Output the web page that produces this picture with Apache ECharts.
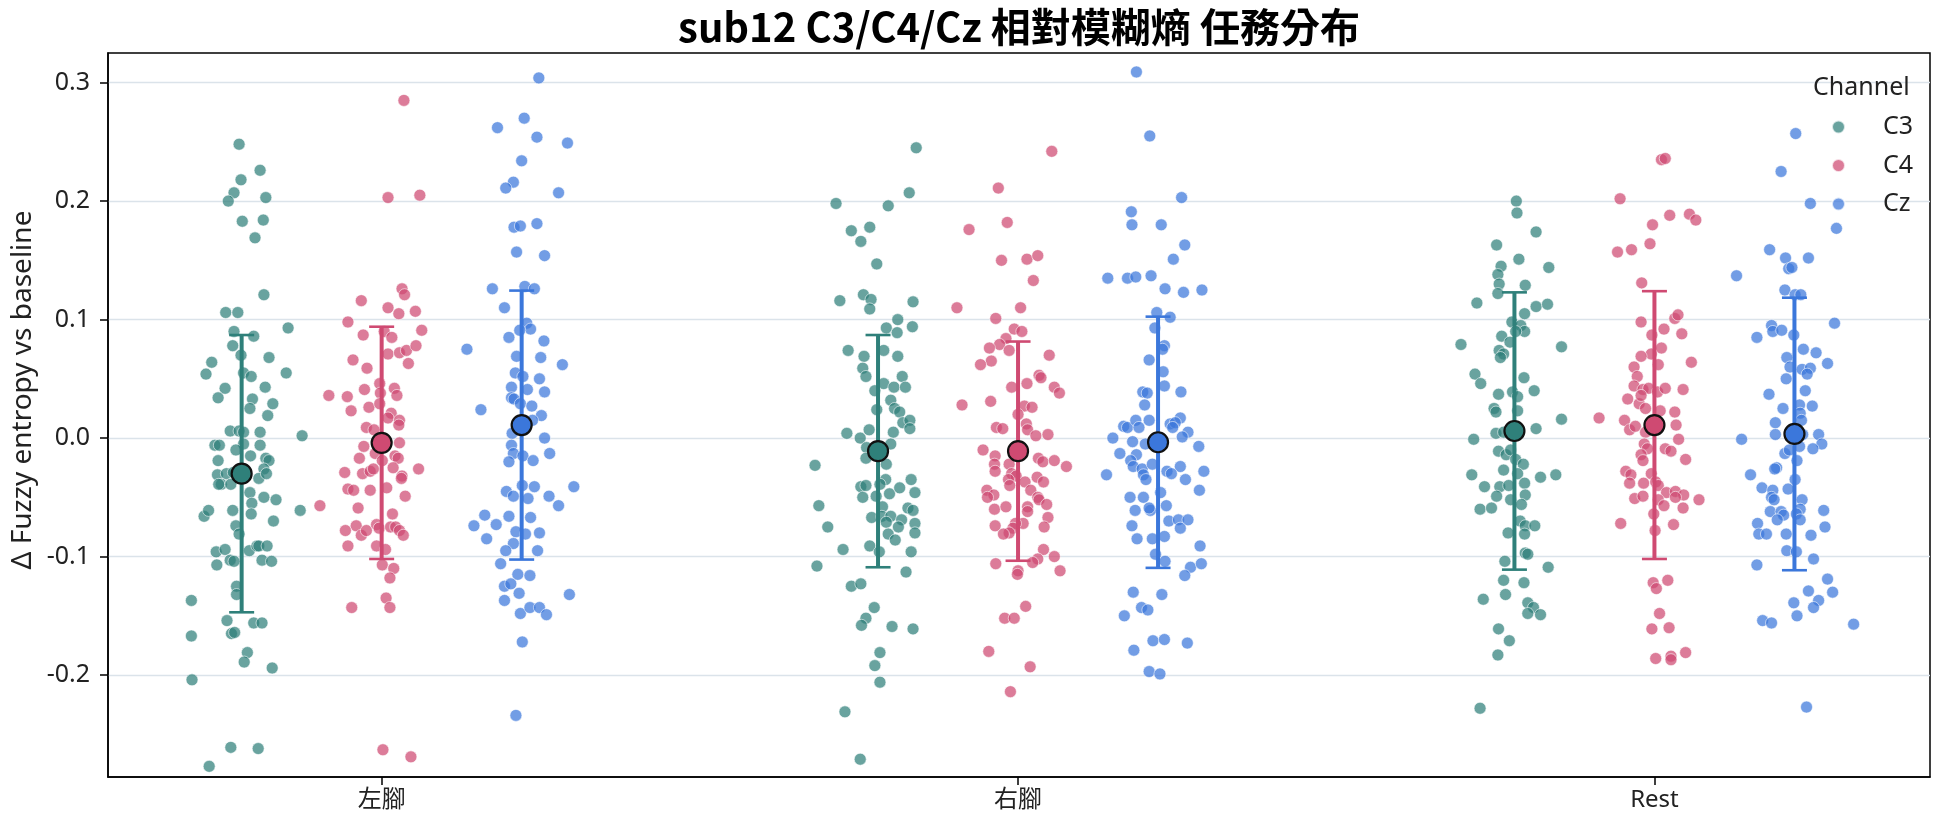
<!DOCTYPE html>
<html>
<head>
<meta charset="utf-8">
<script src="https://cdn.jsdelivr.net/npm/echarts@6/dist/echarts.min.js"></script>
<style>html,body{margin:0;padding:0;background:#fff}#chart{width:1944px;height:827px}</style>
</head>
<body>
<div id="chart"></div>
<script>
// ---------- data ----------
const categories = ['左腳', '右腳', 'Rest'];
const channels = ['C3', 'C4', 'Cz'];
const yTickValues = [-0.2, -0.1, 0.0, 0.1, 0.2, 0.3];
const titleText = 'sub12 C3/C4/Cz 相對模糊熵 任務分布';
const yAxisName = 'Δ Fuzzy entropy vs baseline';
const legendTitle = 'Channel';

// C3
const c3Left = [0.248,0.226,0.218,0.207,0.200,0.203,0.183,0.184,0.169,0.121,
  0.106,0.106,0.093,0.090,0.086,0.078,0.070,0.068,0.064,0.054,
  0.055,0.052,0.055,0.042,0.034,0.043,0.033,0.029,0.025,0.019,
  0.006,0.006,0.005,0.005,0.002,-0.006,-0.006,-0.006,-0.005,-0.010,
  -0.015,-0.019,-0.017,-0.019,-0.026,-0.031,-0.030,-0.029,-0.034,-0.030,
  -0.039,-0.039,-0.039,-0.046,-0.055,-0.050,-0.052,-0.066,-0.061,-0.061,
  -0.064,-0.061,-0.070,-0.074,-0.081,-0.096,-0.094,-0.103,-0.107,-0.104,
  -0.095,-0.091,-0.091,-0.091,-0.103,-0.104,-0.125,-0.132,-0.137,-0.154,
  -0.156,-0.156,-0.165,-0.164,-0.167,-0.181,-0.189,-0.194,-0.204,-0.261,
  -0.262,-0.277];
const c3LeftJitter = [-0.004,0.029,-0.001,-0.012,-0.021,0.038,0.001,0.034,0.021,0.035,
  -0.025,-0.006,0.073,-0.012,0.019,-0.014,-0.001,0.043,-0.047,-0.056,
  0.003,0.015,0.070,-0.026,-0.037,0.037,0.017,0.049,0.013,0.041,
  -0.018,-0.004,0.029,0.003,0.095,-0.042,-0.035,0.029,0.003,-0.009,
  0.014,-0.037,0.038,0.043,0.035,-0.038,-0.024,-0.013,0.027,0.039,
  -0.032,-0.036,-0.017,0.013,0.016,0.035,0.054,-0.059,-0.052,-0.014,
  0.015,0.092,0.050,-0.009,-0.004,-0.040,-0.026,-0.018,-0.039,-0.012,
  0.012,0.024,0.027,0.040,0.032,0.047,-0.008,-0.008,-0.079,-0.023,
  0.019,0.032,-0.016,-0.011,-0.079,0.009,0.004,0.048,-0.078,-0.017,
  0.026,-0.051];
const c3Right = [0.245,0.207,0.198,0.196,0.175,0.178,0.166,0.147,0.116,0.121,
  0.117,0.109,0.115,0.100,0.093,0.089,0.094,0.074,0.069,0.074,
  0.069,0.059,0.052,0.052,0.046,0.040,0.043,0.043,0.032,0.024,
  0.025,0.022,0.013,0.015,0.008,0.004,0.000,0.007,0.005,-0.005,
  -0.008,-0.017,-0.023,-0.022,-0.035,-0.035,-0.041,-0.040,-0.039,-0.047,
  -0.042,-0.046,-0.050,-0.049,-0.057,-0.058,-0.059,-0.061,-0.067,-0.066,
  -0.066,-0.069,-0.072,-0.075,-0.071,-0.075,-0.080,-0.081,-0.086,-0.091,
  -0.094,-0.096,-0.096,-0.108,-0.113,-0.125,-0.123,-0.143,-0.152,-0.158,
  -0.159,-0.161,-0.181,-0.192,-0.206,-0.231,-0.271];
const c3RightJitter = [0.060,0.049,-0.066,0.016,-0.042,-0.013,-0.027,-0.002,-0.060,-0.023,
  -0.011,-0.013,0.055,0.031,0.013,0.030,0.054,-0.047,-0.022,0.009,
  0.031,-0.024,-0.019,0.038,0.009,-0.005,0.025,0.043,0.020,-0.002,
  0.026,0.034,0.039,0.050,0.050,-0.049,-0.028,-0.014,0.024,0.020,
  -0.018,-0.019,-0.099,0.013,0.012,0.052,-0.027,-0.019,0.003,0.018,
  0.034,0.058,-0.024,-0.003,-0.093,0.007,0.047,0.055,-0.010,0.006,
  0.020,0.037,0.058,-0.079,0.013,0.032,0.058,0.016,0.027,-0.013,
  -0.055,0.002,0.052,-0.096,0.044,-0.042,-0.027,-0.006,-0.019,-0.026,
  0.022,0.055,0.003,-0.005,0.003,-0.052,-0.028];
const c3Rest = [0.200,0.190,0.174,0.163,0.151,0.144,0.145,0.138,0.130,0.129,
  0.122,0.114,0.111,0.113,0.105,0.098,0.095,0.090,0.090,0.086,
  0.079,0.077,0.081,0.074,0.071,0.068,0.054,0.046,0.051,0.040,
  0.037,0.039,0.035,0.025,0.022,0.023,0.016,0.008,0.004,0.005,
  -0.001,-0.011,-0.014,-0.010,-0.018,-0.022,-0.027,-0.030,-0.031,-0.033,
  -0.031,-0.041,-0.041,-0.040,-0.038,-0.049,-0.052,-0.048,-0.056,-0.060,
  -0.059,-0.070,-0.074,-0.074,-0.081,-0.080,-0.097,-0.098,-0.104,-0.109,
  -0.120,-0.122,-0.132,-0.136,-0.139,-0.143,-0.148,-0.149,-0.161,-0.171,
  -0.183,-0.228];
const c3RestJitter = [0.003,0.004,0.034,-0.028,0.007,0.054,-0.021,-0.026,-0.024,0.017,
  -0.026,-0.059,0.034,0.052,0.016,-0.004,0.010,0.016,0.002,-0.020,
  -0.084,0.074,-0.007,-0.024,-0.017,-0.022,-0.062,-0.053,0.015,0.031,
  -0.025,-0.003,0.005,-0.032,-0.029,0.005,0.074,0.034,-0.029,-0.017,
  -0.064,-0.025,-0.013,-0.006,0.002,0.014,-0.017,0.005,-0.067,0.041,
  0.065,-0.047,-0.023,-0.009,0.016,-0.028,-0.006,0.017,0.011,-0.054,
  -0.036,0.009,0.017,0.032,0.016,-0.010,0.017,0.021,-0.015,0.053,
  -0.017,0.015,-0.014,-0.049,0.021,0.030,0.021,0.041,-0.025,-0.008,
  -0.026,-0.054];

// C4
const c4Left = [0.285,0.203,0.205,0.126,0.121,0.116,0.110,0.105,0.107,0.098,
  0.087,0.090,0.085,0.091,0.071,0.072,0.074,0.078,0.066,0.059,
  0.063,0.036,0.035,0.041,0.046,0.038,0.042,0.036,0.023,0.026,
  0.029,0.021,0.017,0.015,0.011,0.009,0.007,-0.007,-0.004,-0.013,
  -0.015,-0.017,-0.017,-0.019,-0.025,-0.026,-0.029,-0.030,-0.028,-0.026,
  -0.032,-0.034,-0.042,-0.044,-0.043,-0.044,-0.049,-0.057,-0.059,-0.064,
  -0.074,-0.078,-0.082,-0.078,-0.073,-0.076,-0.075,-0.075,-0.078,-0.082,
  -0.091,-0.091,-0.094,-0.107,-0.110,-0.118,-0.135,-0.143,-0.143,-0.263,
  -0.269];
const c4LeftJitter = [0.035,0.010,0.060,0.032,0.036,-0.032,0.010,0.027,0.053,-0.053,
  -0.029,0.004,0.016,0.063,0.010,0.028,0.039,0.054,-0.045,-0.023,
  0.042,-0.083,-0.054,-0.027,-0.003,-0.002,0.020,0.024,-0.048,-0.020,
  -0.003,0.015,0.010,0.028,0.027,-0.024,-0.012,-0.028,0.028,-0.010,
  0.021,-0.035,0.026,0.001,0.018,0.058,-0.058,-0.030,-0.018,-0.013,
  0.032,0.031,0.008,-0.018,-0.053,-0.044,0.037,-0.097,-0.037,0.017,
  -0.040,-0.057,-0.032,-0.024,-0.008,-0.004,0.014,0.022,0.028,0.034,
  -0.053,-0.008,0.006,0.001,0.019,0.013,0.007,0.013,-0.047,0.002,
  0.046];
const c4Right = [0.242,0.211,0.176,0.182,0.150,0.151,0.154,0.133,0.110,0.110,
  0.101,0.092,0.090,0.084,0.079,0.076,0.074,0.065,0.062,0.070,
  0.053,0.051,0.046,0.043,0.043,0.038,0.028,0.031,0.027,0.026,
  0.020,0.012,0.007,0.009,0.008,0.002,0.003,-0.010,-0.015,-0.017,
  -0.020,-0.019,-0.024,-0.022,-0.028,-0.022,-0.030,-0.032,-0.035,-0.040,
  -0.037,-0.033,-0.037,-0.044,-0.048,-0.050,-0.044,-0.050,-0.052,-0.056,
  -0.060,-0.058,-0.058,-0.062,-0.067,-0.074,-0.072,-0.072,-0.076,-0.075,
  -0.080,-0.081,-0.094,-0.102,-0.105,-0.100,-0.106,-0.112,-0.115,-0.112,
  -0.142,-0.152,-0.152,-0.180,-0.193,-0.214];
const c4RightJitter = [0.053,-0.031,-0.077,-0.017,-0.026,0.014,0.031,0.024,-0.096,0.004,
  -0.035,-0.006,0.006,-0.019,-0.029,-0.045,-0.014,-0.042,-0.059,0.049,
  0.033,0.036,0.014,-0.010,0.057,0.065,-0.088,-0.043,0.010,0.022,
  0.000,0.013,0.015,-0.034,-0.024,0.028,0.047,-0.055,-0.036,0.032,
  0.039,0.057,0.076,-0.037,-0.036,-0.014,-0.010,-0.003,-0.015,-0.013,
  0.011,0.030,0.040,-0.049,-0.038,-0.048,0.020,0.031,0.033,0.045,
  -0.037,-0.019,0.015,0.015,0.047,-0.036,0.008,-0.004,-0.008,0.041,
  -0.014,-0.023,0.040,0.031,0.023,0.057,-0.035,0.000,-0.001,0.066,
  0.012,-0.021,-0.006,-0.046,0.019,-0.012];
const c4Rest = [0.235,0.236,0.202,0.188,0.189,0.184,0.180,0.164,0.157,0.159,
  0.131,0.098,0.101,0.104,0.092,0.088,0.087,0.076,0.071,0.069,
  0.062,0.064,0.060,0.052,0.044,0.041,0.042,0.039,0.042,0.041,
  0.033,0.029,0.036,0.025,0.023,0.022,0.017,0.015,0.007,0.010,
  0.011,0.005,-0.001,-0.005,-0.009,-0.009,-0.011,-0.014,-0.019,-0.018,
  -0.028,-0.031,-0.030,-0.038,-0.038,-0.037,-0.040,-0.046,-0.045,-0.048,
  -0.052,-0.051,-0.049,-0.052,-0.057,-0.050,-0.059,-0.064,-0.072,-0.073,
  -0.078,-0.122,-0.120,-0.127,-0.148,-0.161,-0.160,-0.186,-0.184,-0.187,
  -0.181];
const c4RestJitter = [0.011,0.017,-0.054,0.024,0.055,0.065,-0.003,-0.007,-0.058,-0.036,
  -0.020,-0.021,0.032,0.037,0.015,0.043,-0.004,0.011,-0.005,-0.021,
  0.006,0.058,-0.032,-0.027,-0.032,-0.018,-0.009,0.005,0.017,0.045,
  -0.042,-0.024,-0.021,-0.014,0.009,0.032,-0.087,-0.047,-0.039,-0.030,
  0.034,-0.014,0.038,-0.016,-0.011,0.017,0.026,-0.021,-0.018,0.049,
  -0.045,-0.037,-0.005,-0.039,-0.017,0.002,0.006,0.019,0.033,0.046,
  0.070,-0.031,-0.018,0.006,0.015,0.033,0.045,-0.001,-0.053,0.030,
  0.001,-0.002,0.021,0.003,0.008,-0.004,0.023,0.002,0.026,0.026,
  0.049];

// Cz
const czLeft = [0.304,0.262,0.270,0.254,0.249,0.234,0.216,0.211,0.207,0.178,
  0.179,0.181,0.157,0.154,0.126,0.128,0.126,0.110,0.097,0.092,
  0.091,0.085,0.082,0.075,0.069,0.068,0.062,0.055,0.052,0.050,
  0.043,0.041,0.039,0.034,0.033,0.029,0.027,0.024,0.019,0.015,
  0.004,0.000,-0.006,-0.013,-0.015,-0.013,-0.020,-0.019,-0.040,-0.045,
  -0.041,-0.041,-0.049,-0.051,-0.049,-0.057,-0.065,-0.066,-0.067,-0.074,
  -0.073,-0.079,-0.081,-0.080,-0.085,-0.089,-0.095,-0.095,-0.106,-0.115,
  -0.116,-0.125,-0.123,-0.131,-0.137,-0.132,-0.148,-0.143,-0.143,-0.149,
  -0.172,-0.234];
const czLeftJitter = [0.027,-0.038,0.004,0.024,0.072,0.000,-0.013,-0.025,0.058,-0.012,
  -0.002,0.024,-0.008,0.036,-0.046,0.005,0.020,-0.027,0.008,0.014,
  -0.003,-0.020,0.035,-0.086,-0.008,0.030,0.064,-0.010,0.002,0.028,
  -0.016,0.009,0.036,-0.016,-0.012,-0.002,0.016,-0.064,0.031,0.017,
  -0.015,0.036,-0.016,-0.013,0.002,0.044,-0.020,0.018,0.001,-0.024,
  0.020,0.082,-0.013,0.010,0.043,0.058,-0.058,-0.020,0.014,-0.075,
  -0.040,-0.009,0.006,0.028,-0.055,-0.013,-0.025,0.025,-0.033,-0.006,
  0.013,-0.027,-0.017,-0.004,-0.027,0.075,-0.002,0.013,0.028,0.039,
  0.001,-0.009];
const czRight = [0.309,0.255,0.203,0.191,0.180,0.180,0.163,0.151,0.135,0.135,
  0.136,0.137,0.126,0.123,0.125,0.106,0.102,0.093,0.078,0.075,
  0.066,0.056,0.044,0.039,0.039,0.038,0.028,0.017,0.010,0.009,
  0.015,0.009,0.015,0.012,0.013,0.009,0.005,0.001,0.000,-0.003,
  -0.005,-0.007,-0.013,-0.014,-0.019,-0.024,-0.026,-0.022,-0.024,-0.028,
  -0.030,-0.028,-0.031,-0.031,-0.035,-0.035,-0.044,-0.046,-0.050,-0.050,
  -0.057,-0.061,-0.061,-0.059,-0.070,-0.069,-0.069,-0.076,-0.074,-0.085,
  -0.085,-0.083,-0.091,-0.098,-0.104,-0.109,-0.106,-0.116,-0.130,-0.132,
  -0.143,-0.145,-0.150,-0.171,-0.170,-0.173,-0.179,-0.197,-0.199];
const czRightJitter = [-0.034,-0.013,0.037,-0.042,-0.041,0.005,0.042,0.024,-0.079,-0.048,
  -0.035,-0.011,0.011,0.040,0.069,-0.002,0.019,-0.005,0.010,0.007,
  -0.014,0.008,0.010,0.036,-0.024,-0.017,-0.021,0.035,-0.054,-0.048,
  -0.035,-0.030,-0.014,0.019,0.027,0.023,0.047,0.038,-0.071,-0.040,
  -0.020,0.064,-0.060,-0.034,-0.043,-0.039,-0.025,-0.009,0.035,0.014,
  0.021,0.072,-0.081,-0.023,-0.019,0.043,0.065,0.004,-0.044,-0.023,
  0.013,-0.036,-0.012,-0.014,0.017,0.032,0.047,0.035,-0.041,-0.033,
  -0.009,0.010,0.066,-0.004,0.011,0.051,0.068,0.042,-0.039,0.006,
  -0.026,-0.016,-0.053,-0.008,0.010,0.046,-0.038,-0.014,0.003];
const czRest = [0.257,0.225,0.198,0.177,0.159,0.152,0.152,0.143,0.144,0.137,
  0.125,0.121,0.121,0.097,0.095,0.090,0.091,0.085,0.087,0.075,
  0.072,0.068,0.063,0.060,0.058,0.059,0.054,0.050,0.040,0.037,
  0.027,0.025,0.028,0.021,0.015,0.013,0.003,-0.001,0.003,0.003,
  -0.005,-0.009,-0.007,-0.013,-0.010,-0.019,-0.025,-0.026,-0.031,-0.035,
  -0.042,-0.043,-0.044,-0.050,-0.052,-0.052,-0.062,-0.062,-0.065,-0.069,
  -0.060,-0.064,-0.069,-0.061,-0.072,-0.075,-0.081,-0.081,-0.081,-0.082,
  -0.095,-0.096,-0.102,-0.107,-0.119,-0.129,-0.130,-0.137,-0.139,-0.143,
  -0.150,-0.154,-0.156,-0.157,-0.227];
const czRestJitter = [0.002,-0.021,0.025,0.066,-0.039,-0.014,0.022,-0.009,-0.004,-0.091,
  -0.015,0.001,0.010,0.063,-0.036,-0.034,-0.020,-0.059,-0.001,0.014,
  0.034,-0.012,0.052,-0.007,0.012,0.025,0.020,-0.013,0.017,-0.040,
  0.028,-0.018,0.008,0.009,0.011,-0.030,-0.030,-0.083,0.038,0.013,
  0.043,0.029,0.008,-0.015,-0.008,0.004,-0.028,-0.031,-0.069,0.001,
  -0.051,-0.010,-0.034,-0.036,-0.032,0.012,-0.038,-0.021,-0.017,-0.027,
  0.009,0.003,0.009,0.046,-0.058,0.048,-0.056,-0.044,-0.013,0.026,
  -0.012,0.003,0.030,-0.059,0.052,0.022,0.060,0.038,-0.001,0.030,
  0.004,-0.050,-0.036,0.093,0.019];

// mean and SD per category (左腳, 右腳, Rest)
const c3Mean = [-0.030, -0.011, 0.006];
const c3Sd   = [0.117, 0.098, 0.117];
const c4Mean = [-0.004, -0.011, 0.011];
const c4Sd   = [0.098, 0.0925, 0.113];
const czMean = [0.011, -0.0035, 0.0035];
const czSd   = [0.1135, 0.106, 0.115];

// ---------- chart ----------
const FONT = "'Noto Sans', 'Noto Sans CJK TC', sans-serif";
const dodge = { C3: -0.22, C4: 0, Cz: 0.22 };
const colors = { C3: '#2f807a', C4: '#cf4a72', Cz: '#3b77db' };
const chanSets = {
  C3: { vals: [c3Left, c3Right, c3Rest], jit: [c3LeftJitter, c3RightJitter, c3RestJitter], mean: c3Mean, sd: c3Sd },
  C4: { vals: [c4Left, c4Right, c4Rest], jit: [c4LeftJitter, c4RightJitter, c4RestJitter], mean: c4Mean, sd: c4Sd },
  Cz: { vals: [czLeft, czRight, czRest], jit: [czLeftJitter, czRightJitter, czRestJitter], mean: czMean, sd: czSd }
};

const series = [];
channels.forEach(ch => {
  const s = chanSets[ch];
  const pts = [];
  s.vals.forEach((arr, ci) => arr.forEach((v, k) => pts.push([ci + dodge[ch] + s.jit[ci][k], v])));
  series.push({
    name: ch, type: 'scatter', data: pts, symbol: 'circle', symbolSize: 12, z: 2,
    itemStyle: { color: colors[ch], opacity: 0.72, borderColor: '#ffffff', borderWidth: 0.8 },
    emphasis: { disabled: true }
  });
});
channels.forEach(ch => {
  const s = chanSets[ch];
  const col = colors[ch];
  series.push({
    name: ch + ' sd', type: 'custom', z: 3,
    data: categories.map((c, ci) => [ci + dodge[ch], s.mean[ci], s.mean[ci] - s.sd[ci], s.mean[ci] + s.sd[ci]]),
    encode: { x: 0, y: [1, 2, 3] },
    renderItem: (params, api) => {
      const x = api.value(0);
      const top = api.coord([x, api.value(3)]);
      const bot = api.coord([x, api.value(2)]);
      const cw = 12.5;
      return { type: 'group', children: [
        { type: 'line', shape: { x1: top[0], y1: top[1], x2: bot[0], y2: bot[1] }, style: { stroke: col, lineWidth: 4 } },
        { type: 'line', shape: { x1: top[0] - cw, y1: top[1], x2: top[0] + cw, y2: top[1] }, style: { stroke: col, lineWidth: 2.6 } },
        { type: 'line', shape: { x1: bot[0] - cw, y1: bot[1], x2: bot[0] + cw, y2: bot[1] }, style: { stroke: col, lineWidth: 2.6 } }
      ]};
    }
  });
});
channels.forEach(ch => {
  const s = chanSets[ch];
  series.push({
    name: ch + ' mean', type: 'scatter', z: 4, symbolSize: 20,
    data: categories.map((c, ci) => [ci + dodge[ch], s.mean[ci]]),
    itemStyle: { color: colors[ch], opacity: 1, borderColor: '#111111', borderWidth: 2.2 },
    emphasis: { disabled: true }
  });
});

const chart = echarts.init(document.getElementById('chart'), null, { renderer: 'canvas' });
chart.setOption({
  animation: false,
  backgroundColor: '#ffffff',
  textStyle: { fontFamily: FONT },
  grid: { left: 108, right: 14, top: 53, bottom: 50, show: true, borderColor: '#000', borderWidth: 1.5, outerBoundsMode: 'none' },
  xAxis: {
    type: 'value', min: -0.43, max: 2.433,
    axisLine: { show: true, onZero: false, lineStyle: { color: '#000', width: 1.5 } },
    axisTick: { show: true, length: 8, customValues: [0, 1, 2], lineStyle: { color: '#000', width: 1.5 } },
    axisLabel: { customValues: [0, 1, 2], formatter: v => categories[Math.round(v)], fontSize: 24, color: '#222', margin: 11, fontFamily: FONT },
    splitLine: { show: false }
  },
  yAxis: {
    type: 'value', min: -0.286, max: 0.325,
    axisLine: { show: true, onZero: false, lineStyle: { color: '#000', width: 1.5 } },
    axisTick: { show: true, length: 8, customValues: yTickValues, lineStyle: { color: '#000', width: 1.5 } },
    axisLabel: { customValues: yTickValues, formatter: v => (Math.abs(v) < 1e-9 ? 0 : v).toFixed(1), fontSize: 25, color: '#222', margin: 18, fontFamily: FONT },
    splitLine: { show: true, customValues: yTickValues, lineStyle: { color: '#dbe3ea', width: 1.4 } }
  },
  legend: {
    data: channels, orient: 'vertical', left: 1831, top: 113, padding: 0,
    itemWidth: 13, itemHeight: 13, itemGap: 10.5, selectedMode: false,
    formatter: name => '{s| }' + name,
    textStyle: { fontSize: 25, color: '#222', lineHeight: 28, fontFamily: FONT, rich: { s: { width: 33 } } }
  },
  graphic: [
    { type: 'text', x: 1019, y: 27, z: 10, style: { text: titleText, textAlign: 'center', textVerticalAlign: 'middle', font: "bold 40px 'Noto Sans CJK TC', 'Noto Sans', sans-serif", fill: '#000' } },
    { type: 'text', x: 1813, y: 88, z: 10, style: { text: legendTitle, textAlign: 'left', textVerticalAlign: 'middle', font: "25px 'Noto Sans', sans-serif", fill: '#222' } },
    { type: 'text', x: 23, y: 390, rotation: Math.PI / 2, z: 10, style: { text: yAxisName, textAlign: 'center', textVerticalAlign: 'middle', font: "28px 'Noto Sans', sans-serif", fill: '#222' } }
  ],
  series: series
});
</script>
</body>
</html>
